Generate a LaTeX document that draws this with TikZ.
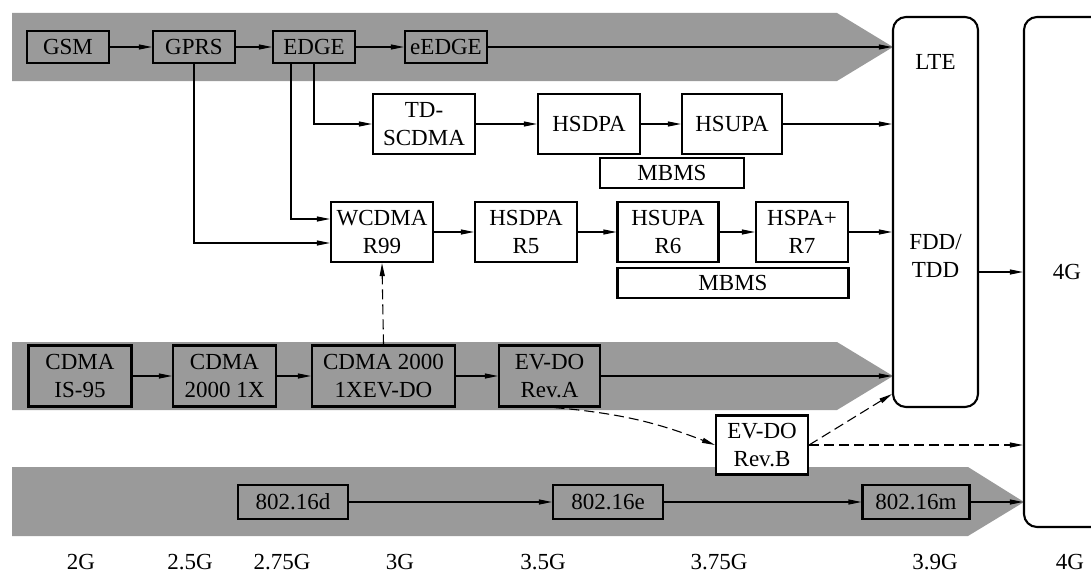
\documentclass[tikz,border=0pt]{standalone}
\usepackage{fontspec}
\setmainfont{Liberation Serif}
\usetikzlibrary{arrows.meta}

\definecolor{bandgray}{RGB}{154,154,154}

\begin{document}
\begin{tikzpicture}[
    x=1pt,
    y=-1pt,
    font=\fontsize{23}{28}\selectfont,
    tech/.style={
        draw,
        line width=2.1pt,
        align=center,
        inner sep=0pt
    },
    onwhite/.style={
        tech,
        fill=white
    },
    era/.style={
        draw,
        line width=2.1pt,
        rounded corners=13pt,
        align=center
    },
    evolve/.style={
        line width=1.1pt,
        -{Triangle[length=13pt,width=5pt]}
    },
    crossover/.style={
        evolve,
        dash pattern=on 10pt off 5pt
    }
]

\useasboundingbox (0,0) rectangle (1091,578);

% Grey bands behind the three families
\fill[bandgray] (12,13) -- (837,13) -- (893,47) -- (837,81) -- (12,81) -- cycle;
\fill[bandgray] (12,342) -- (837,342) -- (893,376) -- (837,410) -- (12,410) -- cycle;
\fill[bandgray] (12,467) -- (968,467) -- (1024,502) -- (968,536) -- (12,536) -- cycle;

% 3.9G and 4G columns
\node[era, minimum width=85, minimum height=390] (lte) at (935.5,212) {};
\node[era, minimum width=86, minimum height=510] (g4) at (1067,272) {4G};
\node (ltename) at (935.5,62) {LTE};
\node[align=center] (ltemode) at (935.5,256) {FDD/\\TDD};

% GSM family
\node[tech, minimum width=82, minimum height=32] (gsm) at (68,47) {GSM};
\node[tech, minimum width=82, minimum height=32] (gprs) at (194,47) {GPRS};
\node[tech, minimum width=82, minimum height=32] (edge) at (314,47) {EDGE};
\node[tech, minimum width=82, minimum height=32] (eedge) at (446,47) {eEDGE};

% TD-SCDMA line
\node[onwhite, minimum width=102, minimum height=60] (tdscdma) at (424,124) {TD-\\SCDMA};
\node[onwhite, minimum width=102, minimum height=60] (hsdpa) at (589,124) {HSDPA};
\node[onwhite, minimum width=100, minimum height=60] (hsupa) at (732,124) {HSUPA};
\node[onwhite, minimum width=144, minimum height=30] (mbmsa) at (672,173) {MBMS};

% WCDMA line
\node[onwhite, minimum width=102, minimum height=60] (wcdma) at (382,232) {WCDMA\\R99};
\node[onwhite, minimum width=102, minimum height=60] (hsdpar) at (526,232) {HSDPA\\R5};
\node[onwhite, minimum width=101, minimum height=60] (hsupar) at (668,232) {HSUPA\\R6};
\node[onwhite, minimum width=92, minimum height=60] (hspa) at (802,232) {HSPA+\\R7};
\node[onwhite, minimum width=231, minimum height=30] (mbmsb) at (733,283) {MBMS};

% CDMA family
\node[tech, minimum width=103, minimum height=61] (is95) at (80,376) {CDMA\\IS-95};
\node[tech, minimum width=103, minimum height=61] (onex) at (224.5,376) {CDMA\\2000 1X};
\node[tech, minimum width=143, minimum height=61] (evdo) at (383.5,376) {CDMA 2000\\1XEV-DO};
\node[tech, minimum width=101, minimum height=61] (reva) at (549.5,376) {EV-DO\\Rev.A};
\node[onwhite, minimum width=92, minimum height=59] (revb) at (762,445) {EV-DO\\Rev.B};

% WiMAX family
\node[tech, minimum width=110, minimum height=34] (wimaxd) at (293,502) {802.16d};
\node[tech, minimum width=110, minimum height=34] (wimaxe) at (608,502) {802.16e};
\node[tech, minimum width=107, minimum height=34] (wimaxm) at (916,502) {802.16m};

% Evolution arrows
\draw[evolve] (gsm) -- (gprs);
\draw[evolve] (gprs) -- (edge);
\draw[evolve] (edge) -- (eedge);
\draw[evolve] (eedge) -- (eedge -| lte.west);
\draw[evolve] (edge.south) |- (tdscdma.west);
\draw[evolve] ([xshift=-23pt]edge.south) |- ([yshift=13pt]wcdma.west);
\draw[evolve] (gprs.south) |- ([yshift=-11pt]wcdma.west);
\draw[evolve] (tdscdma) -- (hsdpa);
\draw[evolve] (hsdpa) -- (hsupa);
\draw[evolve] (hsupa) -- (hsupa -| lte.west);
\draw[evolve] (wcdma) -- (hsdpar);
\draw[evolve] (hsdpar) -- (hsupar);
\draw[evolve] (hsupar) -- (hspa);
\draw[evolve] (hspa) -- (hspa -| lte.west);
\draw[evolve] (is95) -- (onex);
\draw[evolve] (onex) -- (evdo);
\draw[evolve] (evdo) -- (reva);
\draw[evolve] (reva) -- (reva -| lte.west);
\draw[evolve] (wimaxd) -- (wimaxe);
\draw[evolve] (wimaxe) -- (wimaxm);
\draw[evolve] (wimaxm) -- (wimaxm -| g4.west);
\draw[evolve] (lte.east |- g4.west) -- (g4.west);

% Dashed cross-family links
\draw[crossover] (evdo.north) -- (wcdma.south);
\draw[crossover] ([xshift=5pt]reva.south) to[bend left=8] (revb.west);
\draw[crossover] (revb.east) -- ([yshift=14pt]lte.south west);
\draw[crossover] (revb.east) -- (revb.east -| g4.west);

% Generation scale
\foreach \x/\gen [count=\i] in {81/2G, 190/2.5G, 282/2.75G, 400/3G,
        543/3.5G, 719/3.75G, 935/3.9G, 1070/4G}
    \node[inner sep=0pt] (gen\i) at (\x,562) {\gen};

\end{tikzpicture}
\end{document}
